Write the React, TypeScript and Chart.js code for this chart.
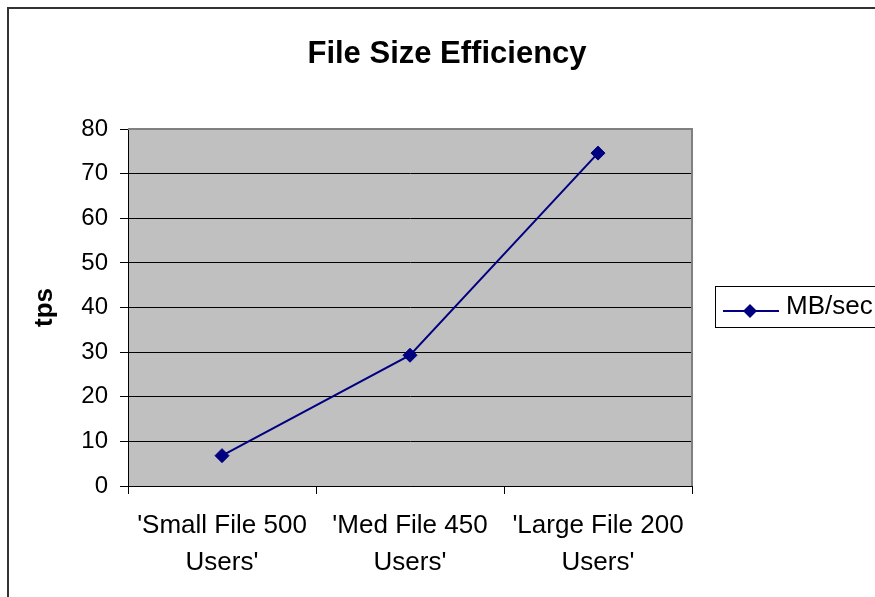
import React, { useEffect, useRef } from "react";
import { Chart, registerables } from "chart.js";

Chart.register(...registerables);

const TITLE = "File Size Efficiency";
const Y_TITLE = "tps";
const SERIES_LABEL = "MB/sec";
const CATEGORIES: string[][] = [
  ["'Small File 500", "Users'"],
  ["'Med File 450", "Users'"],
  ["'Large File 200", "Users'"],
];
const MB_PER_SEC: number[] = [6.8, 29.3, 74.6];
const Y_MIN = 0;
const Y_MAX = 80;
const Y_STEP = 10;

const FONT = "'Liberation Sans', Arial, Helvetica, sans-serif";
const NAVY = "#000080";

const decorPlugin = {
  id: "decor",
  beforeDraw(chart: any) {
    const { ctx, chartArea, width, height } = chart;
    ctx.save();
    ctx.fillStyle = "#ffffff";
    ctx.fillRect(0, 0, width, height);
    ctx.fillStyle = "#C0C0C0";
    ctx.fillRect(chartArea.left, chartArea.top, chartArea.right - chartArea.left, chartArea.bottom - chartArea.top);
    // outer frame
    ctx.strokeStyle = "#333333";
    ctx.lineWidth = 2;
    ctx.strokeRect(8, 8, width + 20, height + 20);
    ctx.restore();
  },
  beforeDatasetsDraw(chart: any) {
    const { ctx, chartArea } = chart;
    ctx.save();
    ctx.strokeStyle = "#808080";
    ctx.lineWidth = 2;
    ctx.beginPath();
    ctx.moveTo(chartArea.left, chartArea.top);
    ctx.lineTo(chartArea.right, chartArea.top);
    ctx.lineTo(chartArea.right, chartArea.bottom);
    ctx.stroke();
    ctx.restore();
  },
  afterDraw(chart: any) {
    const { ctx } = chart;
    ctx.save();
    // title
    ctx.fillStyle = "#000";
    ctx.font = `bold 31px ${FONT}`;
    ctx.textAlign = "center";
    ctx.textBaseline = "middle";
    ctx.fillText(TITLE, 447, 54);
    // legend
    ctx.strokeStyle = "#000";
    ctx.lineWidth = 1;
    ctx.strokeRect(715.5, 286.5, 200, 41);
    ctx.strokeStyle = NAVY;
    ctx.lineWidth = 2;
    ctx.beginPath();
    ctx.moveTo(723, 311);
    ctx.lineTo(779, 311);
    ctx.stroke();
    ctx.fillStyle = NAVY;
    ctx.beginPath();
    ctx.moveTo(750, 304);
    ctx.lineTo(757, 311);
    ctx.lineTo(750, 318);
    ctx.lineTo(743, 311);
    ctx.closePath();
    ctx.fill();
    ctx.fillStyle = "#000";
    ctx.font = `26px ${FONT}`;
    ctx.textAlign = "left";
    ctx.textBaseline = "middle";
    ctx.fillText(chart.data.datasets[0].label, 786, 307);
    ctx.restore();
  },
};

export default function App() {
  const ref = useRef<HTMLCanvasElement | null>(null);

  useEffect(() => {
    if (!ref.current) return;
    const chart = new Chart(ref.current, {
      type: "line",
      data: {
        labels: CATEGORIES,
        datasets: [
          {
            label: SERIES_LABEL,
            data: MB_PER_SEC,
            borderColor: NAVY,
            backgroundColor: NAVY,
            borderWidth: 2,
            pointStyle: "rectRot",
            pointRadius: 7,
            pointBackgroundColor: NAVY,
            pointBorderColor: NAVY,
            pointBorderWidth: 1,
            tension: 0,
            fill: false,
          },
        ],
      },
      options: {
        animation: false,
        responsive: false,
        devicePixelRatio: 1,
        layout: { padding: { left: 20, top: 129, right: 183, bottom: 0 } },
        plugins: {
          legend: { display: false },
          title: { display: false },
          tooltip: { enabled: false },
        },
        scales: {
          x: {
            type: "category",
            offset: true,
            afterFit(scale: any) {
              scale.height = 111;
            },
            grid: {
              offset: true,
              drawOnChartArea: false,
              drawTicks: true,
              tickLength: 8,
              color: "#000",
              lineWidth: 1,
            },
            border: { display: true, color: "#000", width: 1 },
            ticks: {
              color: "#000",
              padding: 13,
              maxRotation: 0,
              autoSkip: false,
              font: { family: FONT, size: 26, lineHeight: 1.42 },
            },
          },
          y: {
            min: Y_MIN,
            max: Y_MAX,
            afterFit(scale: any) {
              scale.width = 108;
            },
            grid: {
              color: (c: any) => (c.tick && c.tick.value === Y_MAX ? "rgba(0,0,0,0)" : "#000"),
              tickColor: "#000",
              lineWidth: 1,
              drawTicks: true,
              tickLength: 8,
            },
            border: { display: true, color: "#000", width: 1 },
            ticks: {
              stepSize: Y_STEP,
              color: "#000",
              padding: 12,
              font: { family: FONT, size: 24 },
            },
            title: {
              display: true,
              text: Y_TITLE,
              color: "#000",
              padding: { top: 9, bottom: 0 },
              font: { family: FONT, size: 26, weight: "bold", lineHeight: 1.2 },
            },
          },
        },
      },
      plugins: [decorPlugin],
    });
    return () => chart.destroy();
  }, []);

  return (
    <div style={{ position: "absolute", left: 0, top: 0, width: 875, height: 597 }}>
      <canvas ref={ref} width={875} height={597} style={{ display: "block" }} />
    </div>
  );
}
